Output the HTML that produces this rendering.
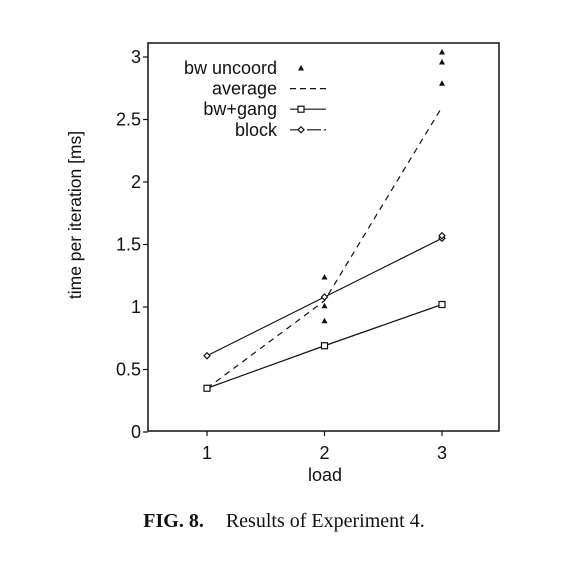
<!DOCTYPE html>
<html><head><meta charset="utf-8"><style>
body{margin:0;background:#fff;}
svg{display:block;}
text{font-family:"Liberation Sans",sans-serif;fill:#111;}
</style></head><body>
<svg width="582" height="569" viewBox="0 0 582 569">
<g id="plot"></g>
<text x="284" y="527" text-anchor="middle" style="font-family:'Liberation Serif',serif;font-size:20px"><tspan font-weight="bold">FIG. 8.</tspan><tspan dx="22">Results of Experiment 4.</tspan></text>
</svg>
<script>
const xCats = [1, 2, 3];
const yTicks = [0, 0.5, 1, 1.5, 2, 2.5, 3];
const yTickLabels = ["0", "0.5", "1", "1.5", "2", "2.5", "3"];
const uncoordX = [1, 2, 2, 2, 3, 3, 3];
const uncoordY = [0.35, 1.24, 1.01, 0.89, 3.04, 2.96, 2.79];
const averageY = [0.35, 1.05, 2.6];
const gangY = [0.35, 0.69, 1.02];
const blockY = [0.61, 1.08, 1.55];
const blockExtraY = [1.57];

const NS = "http://www.w3.org/2000/svg";
const g = document.getElementById('plot');
const L = 148, R = 499, T = 43, B = 431;
const sx = v => 207 + (v - 1) * 117.5;
const sy = v => 432 - v * 125;
function mk(tag, attrs, parent) {
  const e = document.createElementNS(NS, tag);
  for (const k in attrs) e.setAttribute(k, attrs[k]);
  (parent || g).appendChild(e);
  return e;
}
let e;
e = mk('rect', {x: L, y: T, width: R - L, height: B - T, fill: 'none', stroke: '#111', 'stroke-width': 1.5});


yTicks.forEach((v, i) => {
  e = mk('line', {x1: L - 5, x2: L, y1: sy(v), y2: sy(v), stroke: '#111', 'stroke-width': 1.2});
  
  
  e = mk('text', {x: L - 7, y: sy(v) + 6, 'text-anchor': 'end', 'font-size': 18});
  e.textContent = yTickLabels[i];
  
  
});
xCats.forEach(v => {
  e = mk('line', {x1: sx(v), x2: sx(v), y1: B, y2: B + 5, stroke: '#111', 'stroke-width': 1.2});
  
  
  e = mk('text', {x: sx(v), y: 459, 'text-anchor': 'middle', 'font-size': 18});
  e.textContent = String(v);
  
  
});
e = mk('text', {x: 325, y: 481, 'text-anchor': 'middle', 'font-size': 18});
e.textContent = 'load';


e = mk('text', {x: 81, y: 215, 'text-anchor': 'middle', 'font-size': 17.5, transform: 'rotate(-90 81 215)'});
e.textContent = 'time per iteration [ms]';



function poly(ys, dash, name) {
  const p = mk('polyline', {points: ys.map((y, i) => sx(xCats[i]) + ',' + sy(y)).join(' '), fill: 'none', stroke: '#111', 'stroke-width': 1.2});
  if (dash) p.setAttribute('stroke-dasharray', dash);
  
  
}
function tri(x, y, name) {
  const t = mk('polygon', {points: `${x},${y - 3} ${x - 3},${y + 2.5} ${x + 3},${y + 2.5}`, fill: '#111'});
  
  
}
function sq(x, y, name) {
  const t = mk('rect', {x: x - 3, y: y - 3, width: 6, height: 6, fill: '#fff', stroke: '#111', 'stroke-width': 1.2});
  
  
}
function dia(x, y, name) {
  const t = mk('polygon', {points: `${x},${y - 3} ${x + 3},${y} ${x},${y + 3} ${x - 3},${y}`, fill: '#fff', stroke: '#111', 'stroke-width': 1.2});
  
  
}
poly(averageY, '6,5', 'average-line');
poly(gangY, null, 'bw-gang-line');
poly(blockY, null, 'block-line');
uncoordX.forEach((x, i) => tri(sx(x), sy(uncoordY[i]), 'bw-uncoord-point'));
gangY.forEach((y, i) => sq(sx(xCats[i]), sy(y), 'bw-gang-point'));
blockY.forEach((y, i) => dia(sx(xCats[i]), sy(y), 'block-point'));
blockExtraY.forEach(y => dia(sx(3), sy(y), 'block-point'));

const legend = [['bw uncoord', 'tri'], ['average', 'dash'], ['bw+gang', 'sq'], ['block', 'dia']];
legend.forEach((it, i) => {
  const y = 68 + i * 20.6;
  e = mk('text', {x: 277, y: y + 6, 'text-anchor': 'end', 'font-size': 18});
  e.textContent = it[0];
  
  
  if (it[1] === 'tri') { tri(301, y, 'legend-symbol'); return; }
  e = mk('line', {x1: 290, x2: 326, y1: y, y2: y, stroke: '#111', 'stroke-width': 1.2});
  if (it[1] === 'dash') e.setAttribute('stroke-dasharray', '6,4');
  if (it[1] === 'dia') e.setAttribute('stroke-dasharray', '14,3');
  
  
  if (it[1] === 'sq') sq(301, y, 'legend-symbol');
  if (it[1] === 'dia') dia(301, y, 'legend-symbol');
});
</script>
</body></html>
